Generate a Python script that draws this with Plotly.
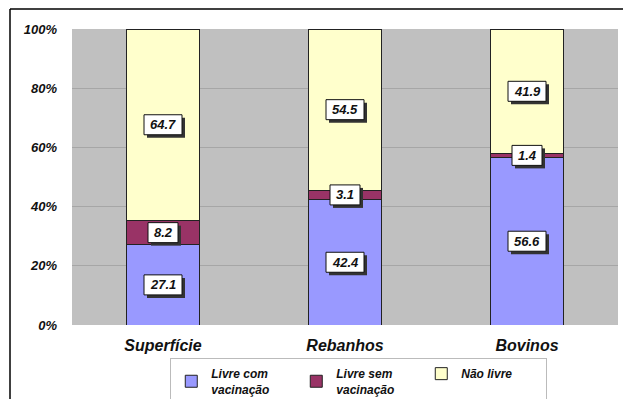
import plotly.graph_objects as go

categories = ["Superfície", "Rebanhos", "Bovinos"]
livre_com = [27.1, 42.4, 56.6]
livre_sem = [8.2, 3.1, 1.4]
nao_livre = [64.7, 54.5, 41.9]
series_names = ["Livre com<br>vacinação", "Livre sem<br>vacinação", "Não livre"]
series_colors = ["#9999FF", "#993366", "#FFFFCC"]
y_ticks = [0, 20, 40, 60, 80, 100]
y_tick_labels = ["0%", "20%", "40%", "60%", "80%", "100%"]

series = [livre_com, livre_sem, nao_livre]
fnt = dict(family="Liberation Sans, Arial", weight="bold", style="italic", color="#111")

fig = go.Figure()
for name, vals, col in zip(series_names, series, series_colors):
    fig.add_trace(go.Bar(
        x=categories, y=vals, name=name,
        marker=dict(color=col, line=dict(color="#222", width=1)),
        width=0.405,
    ))

annotations = []
shapes = []
base = [0.0] * len(categories)
for vals in series:
    for i, cat in enumerate(categories):
        mid = base[i] + vals[i] / 2
        txt = f"{vals[i]:.1f}"
        hw = 19 if vals[i] >= 10 else 15
        # drop shadow behind the label box
        shapes.append(dict(type="rect", xref="x", yref="y", xsizemode="pixel", ysizemode="pixel",
                           xanchor=cat, yanchor=mid, x0=-hw + 3, x1=hw + 3, y0=-10 - 3, y1=10 - 3,
                           fillcolor="#333", line=dict(width=0), layer="above"))
        shapes.append(dict(type="rect", xref="x", yref="y", xsizemode="pixel", ysizemode="pixel",
                           xanchor=cat, yanchor=mid, x0=-hw, x1=hw, y0=-10, y1=10,
                           fillcolor="white", line=dict(color="#111", width=1), layer="above"))
        annotations.append(dict(x=cat, y=mid, xref="x", yref="y", text=txt, showarrow=False,
                                font=dict(size=13, **fnt)))
        base[i] += vals[i]

shapes += [
    dict(type="line", xref="paper", yref="paper", xsizemode="pixel", ysizemode="pixel",
         xanchor=0, yanchor=1, x0=-62, x1=700, y0=20, y1=20,
         line=dict(color="black", width=1.5)),
    dict(type="line", xref="paper", yref="paper", xsizemode="pixel", ysizemode="pixel",
         xanchor=0, yanchor=1, x0=-62, x1=-62, y0=20, y1=-500,
         line=dict(color="black", width=1.5)),
]

fig.update_layout(
    width=623, height=399,
    margin=dict(l=72, r=5, t=29, b=74, autoexpand=False),
    barmode="stack",
    paper_bgcolor="white",
    plot_bgcolor="#C0C0C0",
    showlegend=True,
    legend=dict(orientation="h", x=0.18, y=-0.112, xanchor="left", yanchor="top",
                bgcolor="white", bordercolor="#bbb", borderwidth=1,
                font=dict(size=12, **fnt), entrywidth=80, entrywidthmode="pixels",
                traceorder="normal", itemwidth=30),
    annotations=annotations,
    shapes=shapes,
    xaxis=dict(tickfont=dict(size=16, **fnt), showgrid=False, ticks="", ticklabelstandoff=9),
    yaxis=dict(range=[0, 100], tickvals=y_ticks, ticktext=y_tick_labels,
               tickfont=dict(size=13, **fnt), gridcolor="#A6A6A6", gridwidth=1,
               ticklabelstandoff=14, zeroline=False),
)
fig.write_html("out.html")
